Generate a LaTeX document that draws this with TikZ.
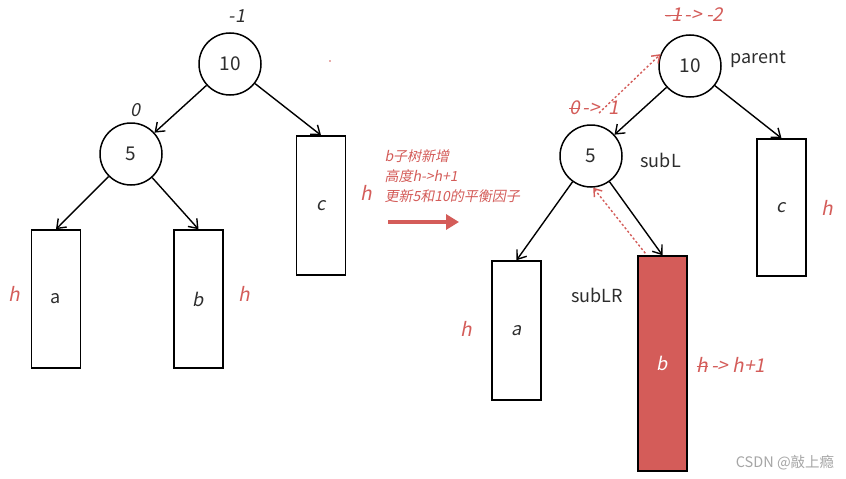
\documentclass[tikz,border=0pt]{standalone}
\usepackage{fontspec}
\setmainfont{Noto Sans CJK SC}[ItalicFont={Noto Sans CJK SC},ItalicFeatures={FakeSlant=0.2}]
\usetikzlibrary{arrows.meta,calc}
\definecolor{hred}{RGB}{212,92,89}
\definecolor{ink}{RGB}{45,45,45}
\newcommand\strk[1]{\setbox0\hbox{#1}\rlap{\rule[0.3em]{\wd0}{0.07em}}#1}
\begin{document}
\begin{tikzpicture}[x=1pt,y=-1pt,
  cnode/.style={circle,draw,line width=1.5pt,minimum size=62pt,inner sep=0pt,font=\fontsize{19}{19}\selectfont,text=ink},
  rbox/.style={draw,line width=1.5pt,inner sep=0pt,minimum width=49pt,font=\fontsize{18}{18}\selectfont,text=ink},
  arr/.style={-{Straight Barb[length=8pt,width=12pt]},line width=1.4pt},
  lbl/.style={font=\fontsize{18}{18}\selectfont\itshape,text=ink},
  rlbl/.style={font=\fontsize{19}{19}\selectfont\itshape,text=hred},
  word/.style={font=\fontsize{18}{18}\selectfont,text=ink},
  dotarr/.style={hred,dash pattern=on 2.2pt off 2.2pt,line width=1.4pt,-{Straight Barb[length=7pt,width=10pt]}}]
\useasboundingbox (0,0) rectangle (846,479);
\fill[white] (0,0) rectangle (846,479);
% ---------- left tree ----------
\node[cnode] (L10) at (230,64) {10};
\node[cnode] (L5) at (131,154) {5};
\node[lbl] (Lbf10) at (237,16) {-1};
\node[lbl] (Lbf5) at (135,110) {0};
\node[rbox,minimum height=138pt] (La) at (56,299) {a};
\node[rbox,minimum height=138pt] (Lb) at (198.5,299) {\itshape b};
\node[rbox,minimum height=139pt] (Lc) at (321,205.5) {\itshape c};
\node[rlbl] (Lha) at (14,294) {h};
\node[rlbl] (Lhb) at (244,294) {h};
\node[rlbl] (Lhc) at (366,193) {h};
\fill[hred] (330,61) circle (0.8);
\draw[arr] (L10) -- (L5);
\draw[arr] (L10) -- (Lc.north);
\draw[arr] (L5) -- (La.north);
\draw[arr] (L5) -- (Lb.north);
% ---------- middle ----------
\node[font=\fontsize{14}{20}\selectfont\itshape,text=hred,align=left,anchor=north west] (mid) at (381,146) {b子树新增\\高度h->h+1\\更新5和10的平衡因子};
\coordinate (ms) at (388,222);
\coordinate (me) at (459,222);
\draw[hred,line width=3.2pt,-{Triangle[length=13pt,width=15pt]}] (ms) -- (me);
% ---------- right tree ----------
\node[cnode] (R10) at (690,66) {10};
\node[cnode] (R5) at (591,156) {5};
\node[word,anchor=west] (parent) at (727,59) {parent};
\node[word,anchor=west] (subL) at (637,160) {subL};
\node[word] (subLR) at (597,295) {subLR};
\node[rlbl] (Rbf10) at (694,15) {\strk{-1}\,-> -2};
\node[rlbl] (Rbf5) at (594,108) {\strk{0}\,->\;\,1};
\node[rbox,minimum height=139pt] (Ra) at (516.5,330.5) {\itshape a};
\node[rbox,minimum height=215pt,fill=hred,text=white] (Rb) at (662.5,363.5) {\itshape b};
\node[rbox,minimum height=137pt] (Rc) at (781.5,207.5) {\itshape c};
\node[rlbl] (Rha) at (466,329) {h};
\node[rlbl] (Rhc) at (827,208) {h};
\node[rlbl,anchor=west] (Rhb) at (693,365) {\strk{h}\,-> h+1};
\draw[arr] (R10) -- (R5);
\draw[arr] (R10) -- (Rc.north);
\draw[arr] (R5) -- (Ra.north);
\draw[arr] (R5) -- (Rb.north);
\coordinate (d1s) at (599,113);
\draw[dotarr] (d1s) -- (R10.158);
\coordinate (d2s) at ($(Rb.north west)+(8,-2)$);
\draw[dotarr] (d2s) -- (R5.274);
\node[font=\fontsize{14.5}{14.5}\selectfont,text=black!35] (wm) at (785,463) {CSDN @敲上瘾};
\end{tikzpicture}
\end{document}
